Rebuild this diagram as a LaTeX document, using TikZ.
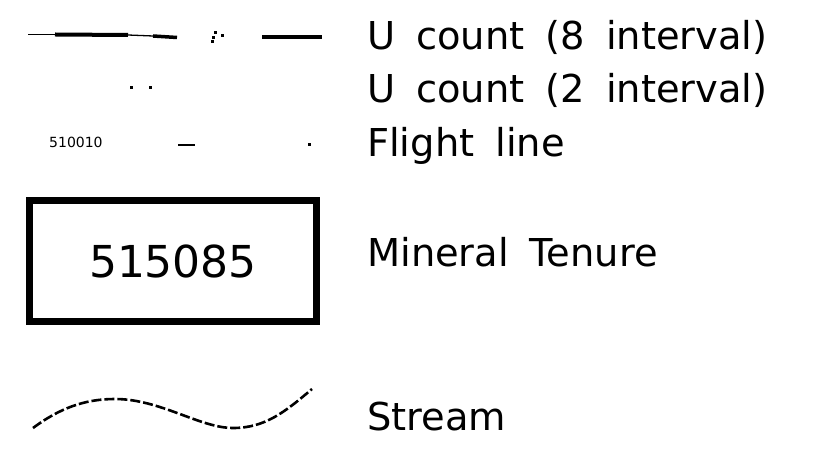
\documentclass[tikz,border=0pt]{standalone}
\usepackage{fontspec}
\setmainfont{DejaVu Sans}
\newcommand{\lblfont}{\fontsize{38.4}{40}\selectfont\setlength{\spaceskip}{21pt}}
\begin{document}
\begin{tikzpicture}[x=1pt,y=-1pt,
  lbl/.style={anchor=base west,inner sep=0pt,font=\lblfont},
  dotmark/.style={fill=black,inner sep=0pt,minimum size=3pt,rectangle},
  thin/.style={line width=1.3pt}]
\useasboundingbox (0,0) rectangle (827,470);
% row 1: U count (8 interval)
\coordinate (a1) at (28,34.5);
\coordinate (a2) at (55,34.5);
\coordinate (a3) at (128,35);
\coordinate (a4) at (153,36);
\coordinate (a5) at (177,37.5);
\draw[thin] (a1) -- (a2);
\draw[line width=4pt] (a2) -- (a3);
\draw[thin] (a3) -- (a4);
\draw[line width=3.5pt] (a4) -- (a5);
\node[dotmark] (d1) at (212,42) {};
\node[dotmark] (d2) at (213,37.5) {};
\node[dotmark] (d3) at (215,33) {};
\node[dotmark] (d4) at (222,36) {};
\coordinate (b1) at (262,37);
\coordinate (b2) at (322,37);
\draw[line width=3.5pt] (b1) -- (b2);
\node[lbl] (t1) at (367,50) {U count (8 interval)};
% row 2: U count (2 interval)
\node[dotmark] (e1) at (131,88) {};
\node[dotmark] (e2) at (150,88) {};
\node[lbl] (t2) at (367,103) {U count (2 interval)};
% row 3: Flight line
\node[anchor=base west,inner sep=0pt,font=\fontsize{14}{15}\selectfont] (fl) at (49,148) {510010};
\coordinate (f1) at (178,145);
\coordinate (f2) at (195,145);
\draw[line width=2pt] (f1) -- (f2);
\node[dotmark] (f3) at (309,145) {};
\node[lbl] (t3) at (367,157) {Flight line};
% row 4: Mineral Tenure
\node[draw,line width=7pt,minimum width=287pt,minimum height=121pt,inner sep=0pt] (box) at (173,261)
  {\fontsize{44}{46}\selectfont 515085};
\node[lbl] (t4) at (367,267) {Mineral Tenure};
% row 5: Stream
\coordinate (s1) at (33,428);
\coordinate (s2) at (115,399);
\coordinate (s3) at (233,428);
\coordinate (s4) at (312,389);
\draw[line width=2.6pt,dash pattern=on 10pt off 3pt] (s1) .. controls (60,408) and (85,399) .. (s2)
  .. controls (160,399) and (200,428) .. (s3) .. controls (265,428) and (285,412) .. (s4);
\node[lbl] (t5) at (367,430) {Stream};
\end{tikzpicture}
\end{document}
